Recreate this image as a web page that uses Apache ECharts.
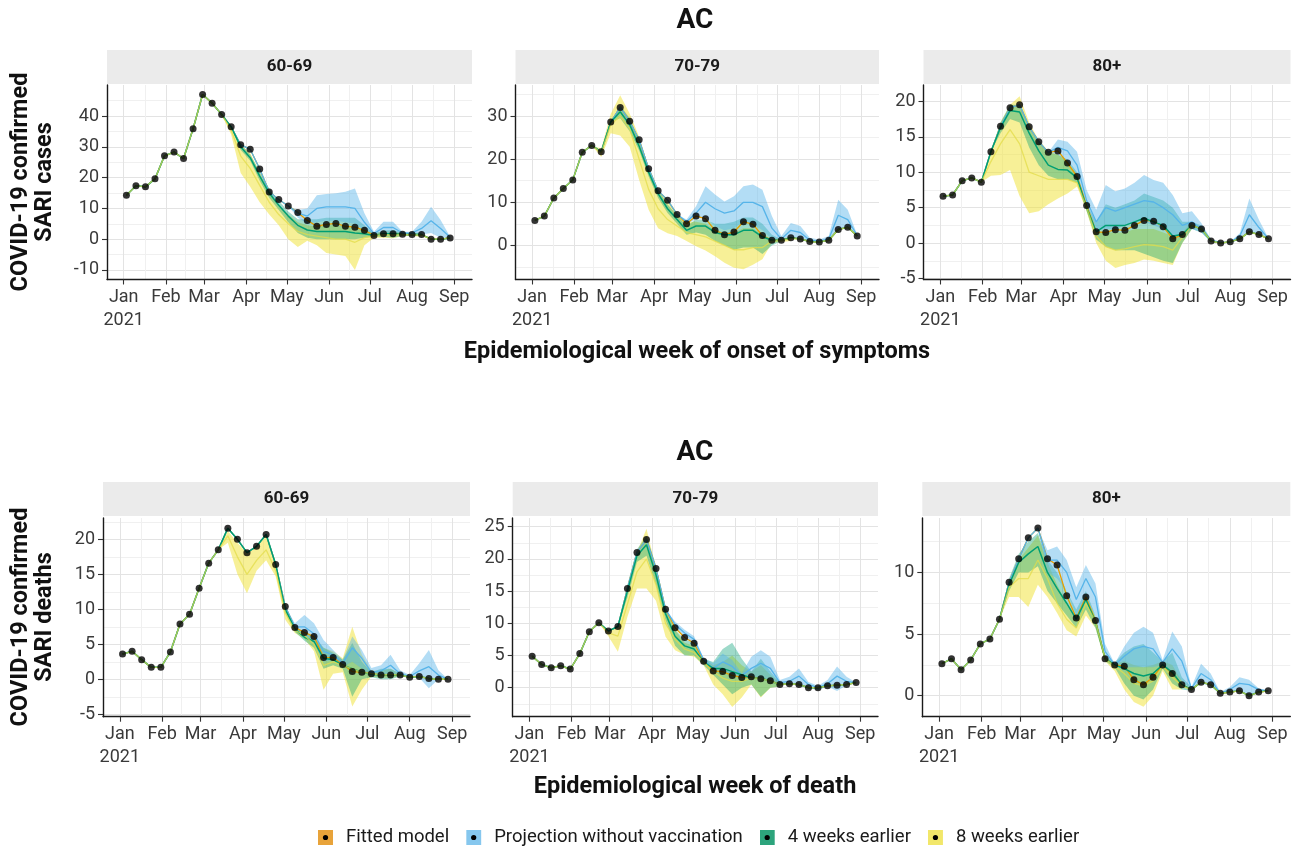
<!DOCTYPE html>
<html><head><meta charset="utf-8">
<script src="https://cdn.jsdelivr.net/npm/echarts@6.0.0/dist/echarts.min.js"></script>
<style>html,body{margin:0;padding:0;background:#fff}#c{width:1298px;height:853px}</style>
</head><body><div id="c"></div><script>
// ---------- data ----------
const weeks = ['2021-01-03','2021-01-10','2021-01-17','2021-01-24','2021-01-31','2021-02-07','2021-02-14','2021-02-21','2021-02-28','2021-03-07','2021-03-14','2021-03-21','2021-03-28','2021-04-04','2021-04-11','2021-04-18','2021-04-25','2021-05-02','2021-05-09','2021-05-16','2021-05-23','2021-05-30','2021-06-06','2021-06-13','2021-06-20','2021-06-27','2021-07-04','2021-07-11','2021-07-18','2021-07-25','2021-08-01','2021-08-08','2021-08-15','2021-08-22','2021-08-29'];
const monthTicks = ['2021-01-01','2021-02-01','2021-03-01','2021-04-01','2021-05-01','2021-06-01','2021-07-01','2021-08-01','2021-09-01'];
const monthLabels = ['Jan\n2021','Feb','Mar','Apr','May','Jun','Jul','Aug','Sep'];
const midMonthTicks = ['2021-01-16 12:00','2021-02-15 00:00','2021-03-16 12:00','2021-04-16 00:00','2021-05-16 12:00','2021-06-16 00:00','2021-07-16 12:00','2021-08-16 12:00'];

const panelTitles = ['60-69','70-79','80+','60-69','70-79','80+'];
const yTicks = [[-10,0,10,20,30,40],[0,10,20,30],[-5,0,5,10,15,20],[-5,0,5,10,15,20],[0,5,10,15,20,25],[0,5,10]];
const yMinorTicks = [[-5,5,15,25,35,45],[-5,5,15,25,35],[-2.5,2.5,7.5,12.5,17.5],[-2.5,2.5,7.5,12.5,17.5,22.5],[-2.5,2.5,7.5,12.5,17.5,22.5],[2.5,7.5,12.5]];

// Cases 60-69
const c60_obs = [14.3,17.4,17.0,19.6,27.1,28.3,26.2,35.9,47.0,44.2,40.5,36.5,30.7,29.2,22.8,15.3,12.9,10.8,8.7,6.1,4.2,4.8,5.1,4.2,3.9,2.9,1.2,1.8,1.8,1.6,1.5,1.5,0.0,0.0,0.4];
const c60_w8_start = 10;
const c60_w8_med = [40.5,35.5,27.0,23.0,17.5,12.0,8.0,5.0,2.5,1.5,1.0,0.5,0.0,0.0,-1.0,0.5,1.2,1.5,1.3,1.5,1.5,1.3];
const c60_w8_lo  = [40.5,34.0,21.5,17.0,12.0,8.0,4.5,0.0,-2.5,-0.5,-2.0,-4.5,-5.0,-5.5,-10.0,-2.0,0.5,0.5,0.3,1.0,1.0,0.8];
const c60_w8_hi  = [40.5,37.0,30.5,28.0,21.5,15.0,11.0,8.0,5.5,4.5,4.0,4.5,4.5,4.0,3.5,3.0,2.0,2.5,2.5,2.0,2.0,2.0];
const c60_w4_start = 11;
const c60_w4_med = [36.5,30.0,26.5,20.5,15.0,11.0,7.5,4.5,3.0,2.5,2.5,2.5,2.5,2.0,1.8,1.2,1.8,1.8,1.6,1.5,1.5];
const c60_w4_lo  = [36.5,29.0,25.5,19.0,13.5,9.5,5.5,2.0,0.5,0.0,0.0,0.0,0.0,0.0,0.5,0.8,0.8,0.5,1.0,1.0,1.0];
const c60_w4_hi  = [36.5,31.0,27.5,22.0,16.5,12.5,9.0,6.5,6.5,6.5,7.0,7.0,7.0,7.0,4.5,1.8,2.8,3.0,2.2,2.0,2.2];
const c60_nv_start = 17;
const c60_nv_med = [10.8,8.5,7.5,10.0,10.5,10.5,10.5,10.0,5.5,1.8,3.8,3.8,2.0,2.0,3.5,6.0,3.5,0.6];
const c60_nv_lo  = [10.8,7.0,5.0,5.5,6.0,6.0,5.5,5.0,3.0,1.2,1.8,1.8,1.6,1.5,1.5,2.0,0.5,0.4];
const c60_nv_hi  = [10.8,9.5,10.0,14.3,14.7,14.9,15.4,16.5,8.4,2.4,5.7,5.7,2.4,2.4,5.7,10.5,6.2,0.8];

// Cases 70-79
const c70_obs = [5.8,6.8,11.0,13.2,15.2,21.6,23.2,21.7,28.6,32.0,28.8,24.5,17.8,12.7,10.5,7.2,5.0,6.8,6.2,3.5,2.5,3.1,5.5,4.9,2.3,1.2,1.2,1.8,1.5,0.9,0.8,1.2,3.7,4.2,2.2];
const c70_w8_start = 6;
const c70_w8_med = [23.2,21.5,28.0,30.0,27.0,20.0,13.0,8.5,6.0,4.5,3.0,2.5,2.0,1.0,0.0,-1.0,-1.0,-0.5,-0.5,1.0,1.2,1.6];
const c70_w8_lo  = [23.2,20.5,26.0,25.5,22.9,15.2,8.3,4.0,2.8,2.2,1.0,-0.2,-1.2,-2.5,-4.0,-5.2,-5.5,-4.5,-3.2,0.6,0.8,1.0];
const c70_w8_hi  = [23.2,22.5,30.5,34.8,30.6,25.2,18.0,13.0,10.0,7.5,5.5,5.5,5.0,3.5,3.0,3.0,4.0,4.0,2.5,1.5,1.6,2.0];
const c70_w4_start = 8;
const c70_w4_med = [28.6,31.0,28.0,23.0,17.0,12.0,8.5,6.0,3.5,4.5,4.5,3.0,2.5,2.5,3.5,3.5,2.0,1.2,1.2];
const c70_w4_lo  = [28.6,29.5,26.5,22.0,16.0,11.0,7.5,5.0,2.5,3.0,2.5,1.0,0.0,-1.0,-0.5,-0.5,-2.0,0.0,1.0];
const c70_w4_hi  = [28.6,32.5,29.5,24.5,18.5,13.0,9.5,7.0,4.5,6.0,6.0,5.0,5.0,5.5,6.5,6.5,5.0,2.5,1.4];
const c70_nv_start = 15;
const c70_nv_med = [7.2,5.5,7.5,10.0,8.5,7.5,8.0,10.0,10.0,9.0,4.0,1.5,3.5,3.0,1.2,1.0,1.5,7.0,6.0,2.3];
const c70_nv_lo  = [7.2,5.0,6.0,6.5,4.5,3.5,4.0,5.5,5.0,3.5,1.5,1.0,1.5,1.5,0.8,0.7,1.0,3.7,4.0,2.0];
const c70_nv_hi  = [7.2,6.0,9.1,13.7,11.8,10.2,11.4,13.7,14.1,12.9,6.8,2.2,5.2,4.5,1.8,1.4,2.2,10.6,8.3,2.5];

// Cases 80+
const c80_obs = [6.6,6.8,8.8,9.2,8.6,12.9,16.5,19.1,19.5,16.4,14.3,12.8,13.0,11.3,9.4,5.3,1.6,1.5,1.9,1.8,2.5,3.2,3.1,2.3,0.6,1.2,2.5,2.0,0.3,0.0,0.2,0.6,1.6,1.2,0.6];
const c80_w8_start = 4;
const c80_w8_med = [8.6,11.5,14.0,16.0,14.0,10.0,9.5,9.0,9.0,9.0,8.5,5.0,1.0,-0.5,-1.0,-0.8,-0.5,-0.2,-0.3,-0.5,-1.0,0.8,2.5];
const c80_w8_lo  = [8.6,9.5,9.6,10.3,6.6,4.2,4.5,5.5,6.3,7.0,8.0,4.5,0.0,-2.5,-3.5,-3.1,-2.8,-2.3,-2.5,-2.8,-3.1,0.0,2.0];
const c80_w8_hi  = [8.6,13.0,17.0,19.5,20.7,17.0,14.5,13.0,12.5,11.5,9.5,5.5,1.6,1.5,1.5,1.5,2.0,2.0,2.0,1.5,1.0,1.5,3.0];
const c80_w4_start = 5;
const c80_w4_med = [12.9,16.3,18.7,18.5,15.5,13.0,11.0,10.4,10.3,9.2,5.0,1.6,2.5,2.5,2.5,3.0,3.5,3.0,2.5,1.0,1.2,2.5,2.0,0.3];
const c80_w4_lo  = [12.9,15.5,17.5,17.0,13.5,11.0,9.5,9.0,9.0,8.5,4.5,0.5,-0.5,-1.0,-1.0,-1.0,-1.5,-2.0,-2.5,-2.8,0.0,2.0,1.5,0.1];
const c80_w4_hi  = [12.9,17.0,19.5,19.5,16.5,14.5,12.8,12.5,11.8,10.0,5.5,3.0,5.5,5.0,5.5,6.0,7.0,6.5,6.0,5.0,3.0,3.0,2.5,0.5];
const c80_nv_start = 11;
const c80_nv_med = [12.8,13.5,13.0,11.0,6.0,3.0,5.0,4.5,5.0,5.5,6.0,5.8,5.0,4.0,2.5,3.0,2.0,0.4,0.1,0.1,1.0,4.0,2.2,0.6];
const c80_nv_lo  = [12.8,12.5,11.5,9.5,5.0,1.8,2.0,2.0,2.5,3.0,3.0,2.5,2.0,1.0,1.0,2.0,1.5,0.2,0.0,0.0,0.5,1.6,1.2,0.5];
const c80_nv_hi  = [12.8,14.6,14.3,12.9,7.5,4.7,8.2,7.3,7.7,8.5,9.6,8.9,8.5,6.8,4.2,4.5,2.8,0.5,0.2,0.2,1.4,6.3,3.3,0.7];

// Deaths 60-69
const d60_obs = [3.6,4.0,2.8,1.7,1.7,3.9,7.9,9.3,13.0,16.6,18.5,21.6,20.0,18.1,19.0,20.7,16.4,10.4,7.4,6.7,6.1,3.1,3.1,2.1,1.1,1.0,0.8,0.6,0.6,0.6,0.3,0.4,0.1,0.0,0.0];
const d60_w8_start = 10;
const d60_w8_med = [18.5,20.5,17.5,15.0,17.0,18.5,15.5,9.5,7.0,6.3,5.0,2.0,2.5,2.0,1.5,1.0,0.8,0.6,0.7,0.6];
const d60_w8_lo  = [18.5,19.5,15.0,12.3,15.5,17.0,14.7,8.5,6.6,5.8,4.0,-1.5,0.8,1.0,-3.9,-1.5,0.4,0.2,0.2,0.4];
const d60_w8_hi  = [18.5,21.2,19.5,18.0,19.0,20.5,16.5,10.5,7.6,6.8,6.0,4.5,4.0,3.0,7.5,3.5,1.2,1.2,1.5,0.8];
const d60_w4_start = 16;
const d60_w4_med = [16.4,10.0,7.2,6.0,5.4,3.0,2.8,2.0,1.5,1.0,0.7,0.6,0.6,0.6];
const d60_w4_lo  = [16.4,9.5,6.8,5.5,4.5,1.5,2.0,1.5,-2.5,0.0,0.3,0.0,0.0,0.4];
const d60_w4_hi  = [16.4,10.5,7.6,6.5,6.2,4.5,3.8,2.8,5.2,2.5,1.0,1.5,1.5,0.8];
const d60_nv_start = 17;
const d60_nv_med = [10.4,7.5,7.5,6.5,4.0,3.5,2.3,4.5,3.0,1.0,1.2,2.0,0.8,0.4,1.2,1.8,0.6,0.0];
const d60_nv_lo  = [10.4,7.0,6.0,5.0,2.5,2.8,1.8,2.5,1.5,0.5,0.5,0.5,0.4,0.2,0.2,-1.3,0.0,0.0];
const d60_nv_hi  = [10.4,8.0,9.2,8.0,5.6,4.2,2.8,6.1,4.2,1.6,2.0,3.5,1.3,0.6,2.3,4.2,1.3,0.0];

// Deaths 70-79
const d70_obs = [4.9,3.6,3.1,3.4,2.9,5.3,8.7,10.1,8.8,9.5,15.4,21.0,23.0,18.5,12.2,9.3,7.8,6.9,4.1,2.6,2.5,1.9,1.6,1.7,1.4,1.1,0.5,0.6,0.5,0.0,0.0,0.3,0.4,0.5,0.8];
const d70_w8_start = 7;
const d70_w8_med = [10.1,8.5,8.0,13.0,18.0,20.0,16.0,10.0,7.5,6.0,5.5,4.0,2.5,1.5,1.0,1.0,1.5,1.5,1.0,0.5];
const d70_w8_lo  = [10.1,8.0,5.6,11.0,15.4,15.4,13.5,7.9,5.8,5.1,4.8,3.5,0.5,-1.0,-3.0,-1.5,0.5,-1.5,0.0,0.2];
const d70_w8_hi  = [10.1,9.0,9.5,15.5,21.0,24.7,18.5,12.0,9.0,7.0,6.5,4.5,3.5,4.0,5.0,3.5,2.5,3.5,2.0,0.8];
const d70_w4_start = 9;
const d70_w4_med = [9.5,15.0,20.5,22.2,17.5,11.5,8.0,6.5,6.0,4.0,3.0,3.0,2.5,2.0,1.5,1.5,1.0,0.5];
const d70_w4_lo  = [9.5,14.0,19.5,20.5,16.0,10.5,6.5,5.0,5.0,3.5,2.0,0.5,-1.0,0.0,0.5,-1.4,0.0,0.2];
const d70_w4_hi  = [9.5,16.0,21.5,23.5,19.0,12.5,9.0,7.5,7.0,4.5,4.0,6.0,7.0,4.5,2.5,4.5,2.5,0.8];
const d70_nv_start = 14;
const d70_nv_med = [12.2,9.8,8.5,7.5,4.3,3.0,4.0,3.3,1.9,3.0,3.8,3.0,0.8,1.0,1.8,0.5,0.0,0.6,1.8,1.0,0.8];
const d70_nv_lo  = [12.2,9.3,7.8,6.9,4.1,2.6,2.5,2.0,1.6,1.7,1.4,1.1,0.5,0.5,0.3,0.0,-0.4,0.2,-0.5,0.4,0.8];
const d70_nv_hi  = [12.2,10.3,9.0,8.0,4.6,3.8,5.3,4.3,2.2,4.8,5.8,4.8,1.2,1.7,3.0,0.9,0.3,1.2,3.3,1.7,0.8];

// Deaths 80+
const d80_obs = [2.6,3.0,2.1,2.9,4.2,4.6,6.2,9.2,11.1,12.8,13.6,11.1,10.6,8.1,6.3,8.0,6.1,3.0,2.5,2.4,1.3,0.9,1.5,2.5,1.8,0.9,0.5,1.1,0.9,0.2,0.3,0.4,0.0,0.3,0.4];
const d80_w8_start = 6;
const d80_w8_med = [6.2,8.8,9.5,9.5,11.0,9.5,7.5,6.2,5.5,7.5,6.0,3.0,2.4,1.8,1.0,0.8,1.2,2.4,1.5,0.8];
const d80_w8_lo  = [6.2,8.0,8.0,7.2,9.0,8.0,6.7,5.3,4.8,6.5,5.5,2.8,2.0,0.5,-0.5,-0.9,0.0,2.0,0.5,0.5];
const d80_w8_hi  = [6.2,9.3,11.0,12.0,13.0,10.8,9.0,7.5,6.3,8.2,6.3,3.2,2.6,2.8,2.5,2.3,2.5,2.8,2.5,1.2];
const d80_w4_start = 6;
const d80_w4_med = [6.2,9.0,10.8,11.5,12.1,10.0,8.7,7.5,6.2,7.8,6.0,3.0,2.5,2.2,1.8,1.6,1.8,2.5,1.9,0.9,0.5];
const d80_w4_lo  = [6.2,8.5,10.0,10.0,10.5,8.5,7.5,6.5,5.5,7.0,5.5,2.8,2.3,1.0,0.0,-0.3,0.5,2.2,1.0,0.5,0.4];
const d80_w4_hi  = [6.2,9.5,11.5,12.5,13.2,11.0,10.0,8.5,7.0,8.5,6.5,3.2,2.7,3.5,4.0,4.2,3.5,2.8,3.5,1.5,0.7];
const d80_nv_start = 10;
const d80_nv_med = [13.6,11.0,11.0,10.0,7.8,9.5,8.0,3.6,2.5,3.2,3.8,4.0,3.8,2.7,3.8,2.8,0.6,1.8,1.3,0.2,0.5,1.0,0.9,0.5,0.4];
const d80_nv_lo  = [13.6,10.0,9.5,8.5,6.5,8.0,6.5,3.0,2.3,2.3,2.3,2.3,2.3,2.5,2.0,1.2,0.5,1.0,0.8,0.1,0.3,0.4,0.0,0.3,0.4];
const d80_nv_hi  = [13.6,11.8,12.1,11.0,8.8,10.6,9.1,4.2,2.6,4.0,5.1,5.6,5.1,2.9,5.2,4.0,0.7,2.6,1.8,0.3,0.7,1.5,1.3,0.6,0.4];

// ---------- assembly ----------
const NAME_FIT = 'Fitted model', NAME_NV = 'Projection without vaccination', NAME_W4 = '4 weeks earlier', NAME_W8 = '8 weeks earlier';
const COL = { fit: '#E69F00', nv: '#56B4E9', w4: '#009E73', w8: '#F0E442' };

function toTime(s) {
  const m = s.match(/^(\d{4})-(\d{2})-(\d{2})(?: (\d{2}):(\d{2}))?$/);
  return new Date(+m[1], +m[2] - 1, +m[3], m[4] ? +m[4] : 0, m[5] ? +m[5] : 0).getTime();
}
const weekT = weeks.map(toTime);
const monthT = monthTicks.map(toTime);
const midMonthT = midMonthTicks.map(toTime);

const panels = [
  { obs: c60_obs, w8: [c60_w8_start, c60_w8_med, c60_w8_lo, c60_w8_hi], w4: [c60_w4_start, c60_w4_med, c60_w4_lo, c60_w4_hi], nv: [c60_nv_start, c60_nv_med, c60_nv_lo, c60_nv_hi] },
  { obs: c70_obs, w8: [c70_w8_start, c70_w8_med, c70_w8_lo, c70_w8_hi], w4: [c70_w4_start, c70_w4_med, c70_w4_lo, c70_w4_hi], nv: [c70_nv_start, c70_nv_med, c70_nv_lo, c70_nv_hi] },
  { obs: c80_obs, w8: [c80_w8_start, c80_w8_med, c80_w8_lo, c80_w8_hi], w4: [c80_w4_start, c80_w4_med, c80_w4_lo, c80_w4_hi], nv: [c80_nv_start, c80_nv_med, c80_nv_lo, c80_nv_hi] },
  { obs: d60_obs, w8: [d60_w8_start, d60_w8_med, d60_w8_lo, d60_w8_hi], w4: [d60_w4_start, d60_w4_med, d60_w4_lo, d60_w4_hi], nv: [d60_nv_start, d60_nv_med, d60_nv_lo, d60_nv_hi] },
  { obs: d70_obs, w8: [d70_w8_start, d70_w8_med, d70_w8_lo, d70_w8_hi], w4: [d70_w4_start, d70_w4_med, d70_w4_lo, d70_w4_hi], nv: [d70_nv_start, d70_nv_med, d70_nv_lo, d70_nv_hi] },
  { obs: d80_obs, w8: [d80_w8_start, d80_w8_med, d80_w8_lo, d80_w8_hi], w4: [d80_w4_start, d80_w4_med, d80_w4_lo, d80_w4_hi], nv: [d80_nv_start, d80_nv_med, d80_nv_lo, d80_nv_hi] }
];

// layout (pixels) and axis extents
const layout = [
  { left: 107,   top: 85,  width: 365,   height: 194.5, yMin: -13.1, yMax: 50.1 },
  { left: 515.5, top: 85,  width: 363.5, height: 194.5, yMin: -7.9,  yMax: 37.2 },
  { left: 923.5, top: 85,  width: 367,   height: 194.5, yMin: -5.13, yMax: 22.3 },
  { left: 103,   top: 518, width: 367,   height: 198.7, yMin: -5.35, yMax: 23.05 },
  { left: 512.7, top: 518, width: 365.3, height: 198.7, yMin: -4.5,  yMax: 26.35 },
  { left: 922.3, top: 518, width: 368,   height: 198.7, yMin: -1.7,  yMax: 14.41 }
];
const X_MIN = new Date(2020, 11, 19, 17).getTime();
const X_MAX = new Date(2021, 8, 14, 2).getTime();
const FONT = 'Roboto';

function fullLine(obs, sc) {
  const start = sc[0], med = sc[1];
  return weekT.map(function (t, i) {
    const k = i - start;
    return [t, (k >= 0 && k < med.length) ? med[k] : obs[i]];
  });
}
function bandRows(sc) {
  const start = sc[0], lo = sc[2], hi = sc[3];
  return lo.map(function (v, k) { return [weekT[start + k], v, hi[k]]; });
}
function bandSeries(p, name, sc, color, alpha) {
  return {
    type: 'custom', name: name, xAxisIndex: p, yAxisIndex: p, silent: true, clip: true, z: 2,
    data: bandRows(sc), encode: { x: 0, y: [1, 2] },
    renderItem: function (params, api) {
      if (params.dataIndexInside !== 0) return null;
      const n = params.dataInsideLength;
      const top = [], bot = [];
      for (let j = 0; j < n; j++) {
        const t = api.value(0, j);
        top.push(api.coord([t, api.value(2, j)]));
        bot.push(api.coord([t, api.value(1, j)]));
      }
      return { type: 'polygon', shape: { points: top.concat(bot.reverse()) }, style: { fill: color, opacity: alpha } };
    }
  };
}
function lineSeries(p, name, data, color, width, opacity, z) {
  return { type: 'line', name: name, xAxisIndex: p, yAxisIndex: p, data: data, showSymbol: false, silent: true, z: z,
    lineStyle: { color: color, width: width, opacity: opacity }, itemStyle: { color: color } };
}

const grids = [], xAxes = [], yAxes = [], series = [], graphics = [];
layout.forEach(function (L) {
  grids.push({ left: L.left, top: L.top, width: L.width, height: L.height, containLabel: false });
});
// main axes 0..5
layout.forEach(function (L, p) {
  xAxes.push({
    type: 'value', gridIndex: p, min: X_MIN, max: X_MAX, scale: true,
    axisLine: { show: true, onZero: false, lineStyle: { color: '#1a1a1a', width: 1.4 } },
    axisTick: { show: true, length: 5, customValues: monthT, lineStyle: { color: '#333', width: 1.1 } },
    axisLabel: { show: true, customValues: monthT, margin: 6, color: '#3a3a3a', fontSize: 18, fontFamily: FONT, lineHeight: 23, hideOverlap: false,
      formatter: function (v) { return monthLabels[new Date(v).getMonth()]; } },
    splitLine: { show: true, lineStyle: { color: '#e3e3e3', width: 1 } }
  });
  yAxes.push({
    type: 'value', gridIndex: p, min: L.yMin, max: L.yMax, splitNumber: 5,
    axisLine: { show: true, onZero: false, lineStyle: { color: '#1a1a1a', width: 1.4 } },
    axisTick: { show: true, length: 5, customValues: yTicks[p], lineStyle: { color: '#333', width: 1.1 } },
    axisLabel: { show: true, customValues: yTicks[p], margin: 8, color: '#3a3a3a', fontSize: 18, fontFamily: FONT },
    splitLine: { show: true, lineStyle: { color: '#e3e3e3', width: 1 } }
  });
});
// minor grid axes 6..11
layout.forEach(function (L, p) {
  xAxes.push({
    type: 'value', gridIndex: p, min: X_MIN, max: X_MAX, scale: true, position: 'bottom',
    axisLine: { show: false }, axisTick: { show: false, customValues: midMonthT }, axisLabel: { show: false },
    splitLine: { show: true, lineStyle: { color: '#f0f0f0', width: 1 } }
  });
  yAxes.push({
    type: 'value', gridIndex: p, min: L.yMin, max: L.yMax, position: 'left',
    axisLine: { show: false }, axisTick: { show: false, customValues: yMinorTicks[p] }, axisLabel: { show: false },
    splitLine: { show: true, lineStyle: { color: '#f0f0f0', width: 1 } }
  });
});

panels.forEach(function (P, p) {
  series.push(bandSeries(p, NAME_W8, P.w8, COL.w8, 0.55));
  series.push(bandSeries(p, NAME_W4, P.w4, COL.w4, 0.38));
  series.push(bandSeries(p, NAME_NV, P.nv, COL.nv, 0.45));
  series.push(lineSeries(p, NAME_FIT, weekT.map(function (t, i) { return [t, P.obs[i]]; }), COL.fit, 1.3, 1, 3));
  series.push(lineSeries(p, NAME_NV, fullLine(P.obs, P.nv), COL.nv, 1.3, 1, 4));
  series.push(lineSeries(p, NAME_W4, fullLine(P.obs, P.w4), COL.w4, 1.5, 1, 5));
  series.push(lineSeries(p, NAME_W8, fullLine(P.obs, P.w8), '#e3dc4a', 1.3, 0.75, 6));
  series.push({ type: 'scatter', name: 'Observed', xAxisIndex: p, yAxisIndex: p, silent: true, z: 8,
    symbol: 'circle', symbolSize: 7, itemStyle: { color: '#000' },
    data: weekT.map(function (t, i) { return [t, P.obs[i]]; }) });
});

// strips
layout.forEach(function (L, p) {
  const sy = p < 3 ? 50 : 482;
  graphics.push({ type: 'rect', silent: true, z: -10, shape: { x: L.left, y: sy, width: L.width, height: 34 }, style: { fill: '#ebebeb' } });
  graphics.push({ type: 'text', silent: true, x: L.left + L.width / 2, y: sy + 17,
    style: { text: panelTitles[p], font: 'bold 17px ' + FONT, fill: '#1a1a1a', align: 'center', verticalAlign: 'middle', textAlign: 'center', textVerticalAlign: 'middle' } });
});
function txt(text, x, y, size, rot) {
  return { type: 'text', silent: true, x: x, y: y, rotation: rot || 0,
    style: { text: text, font: 'bold ' + size + 'px ' + FONT, fill: '#111', align: 'center', verticalAlign: 'middle', textAlign: 'center', textVerticalAlign: 'middle', lineHeight: 24 } };
}
graphics.push(txt('AC', 695, 21, 28));
graphics.push(txt('AC', 695, 453, 28));
graphics.push(txt('Epidemiological week of onset of symptoms', 697, 352, 23.5));
graphics.push(txt('Epidemiological week of death', 695, 787, 23.5));
graphics.push(txt('COVID-19 confirmed\nSARI cases', 33.5, 182, 23.5, Math.PI / 2));
graphics.push(txt('COVID-19 confirmed\nSARI deaths', 33.5, 617, 23.5, Math.PI / 2));

function keyIcon(color) {
  const svg = '<svg xmlns="http://www.w3.org/2000/svg" width="23" height="15" viewBox="0 0 23 15" preserveAspectRatio="none">' +
    '<rect x="0" y="0" width="15" height="15" fill="' + color + '"/><circle cx="7.5" cy="7.5" r="2.6" fill="#000"/></svg>';
  return 'image://data:image/svg+xml;charset=utf-8,' + encodeURIComponent(svg);
}

const chart = echarts.init(document.getElementById('c'), null, { renderer: 'canvas' });
chart.setOption({
  animation: false,
  backgroundColor: '#ffffff',
  grid: grids, xAxis: xAxes, yAxis: yAxes, series: series, graphic: graphics,
  legend: {
    left: 318, top: 828, padding: 0, itemWidth: 23, itemHeight: 15, itemGap: 17, selectedMode: true,
    textStyle: { fontSize: 18.5, color: '#1a1a1a', fontFamily: FONT },
    data: [
      { name: NAME_FIT, icon: keyIcon('#E8A33A') },
      { name: NAME_NV, icon: keyIcon('#86C7EE') },
      { name: NAME_W4, icon: keyIcon('#2DA47C') },
      { name: NAME_W8, icon: keyIcon('#F2E76A') }
    ]
  }
});
</script></body></html>
